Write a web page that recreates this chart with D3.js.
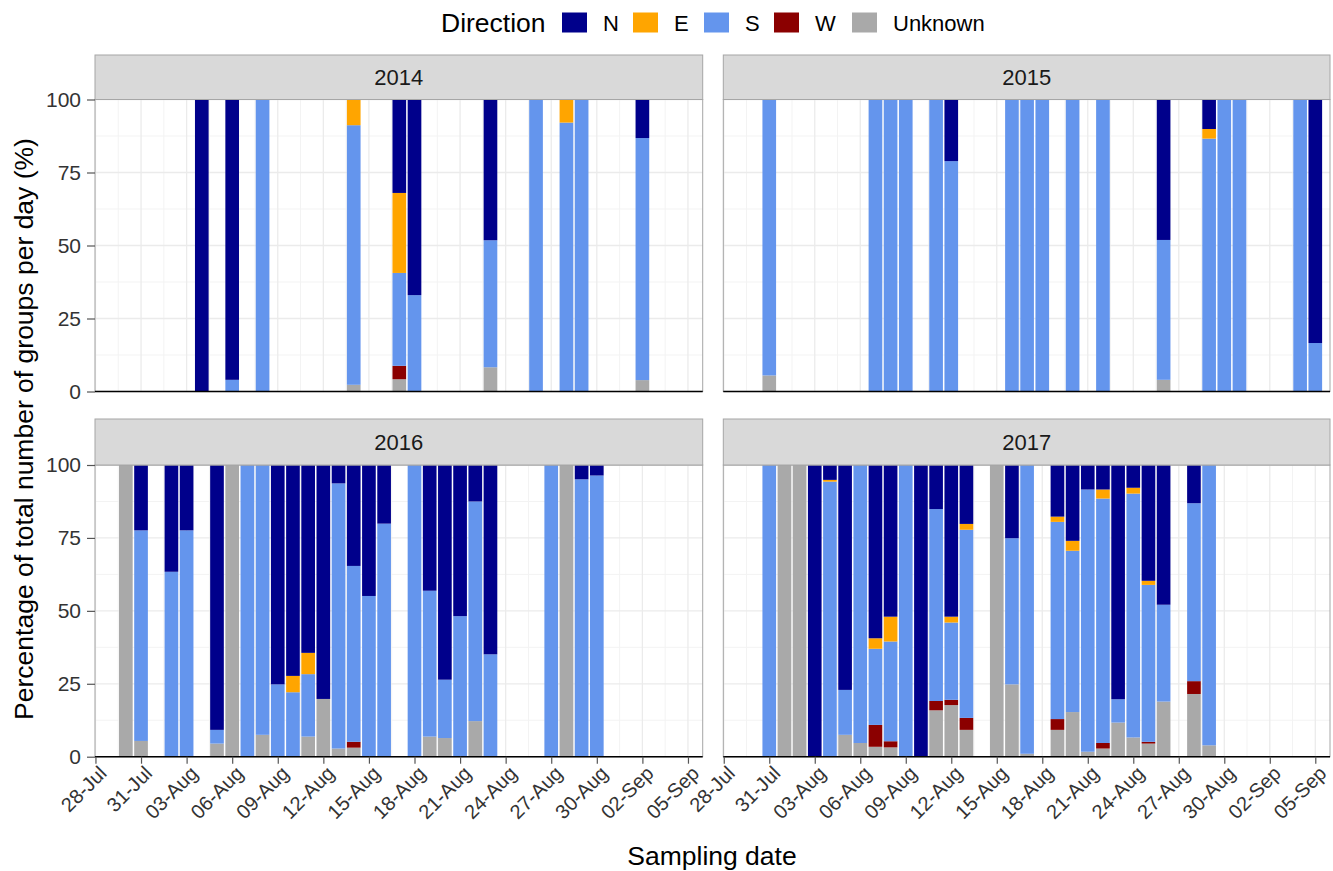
<!DOCTYPE html>
<html><head><meta charset="utf-8">
<script src="https://cdn.jsdelivr.net/npm/d3@7"></script>
<style>body{margin:0;background:#fff} svg{font-family:"Liberation Sans",Arial,sans-serif}</style>
</head><body><svg id="c" width="1333" height="871"></svg>
<script>
// ---------- data ----------
const directions = ["N", "E", "S", "W", "Unknown"];
const dirColors = ["#00008B", "#FFA500", "#6495ED", "#8B0000", "#A9A9A9"];
const years = ["2014", "2015", "2016", "2017"];
const xTickLabels = ["28-Jul","31-Jul","03-Aug","06-Aug","09-Aug","12-Aug","15-Aug","18-Aug","21-Aug","24-Aug","27-Aug","30-Aug","02-Sep","05-Sep"];
const yTickValues = [0, 25, 50, 75, 100];

const dates2014 = ["04-Aug","06-Aug","08-Aug","14-Aug","17-Aug","18-Aug","23-Aug","26-Aug","28-Aug","29-Aug","02-Sep"];
const N2014 = [100, 96, 0, 0, 32, 67, 48.2, 0, 0, 0, 13.2];
const E2014 = [0, 0, 0, 8.8, 27.4, 0, 0, 0, 7.9, 0, 0];
const S2014 = [0, 4, 100, 88.9, 31.8, 33, 43.5, 100, 92.1, 100, 82.9];
const W2014 = [0, 0, 0, 0, 4.6, 0, 0, 0, 0, 0, 0];
const U2014 = [0, 0, 0, 2.3, 4.2, 0, 8.3, 0, 0, 0, 3.9];

const dates2015 = ["31-Jul","07-Aug","08-Aug","09-Aug","11-Aug","12-Aug","16-Aug","17-Aug","18-Aug","20-Aug","22-Aug","26-Aug","29-Aug","30-Aug","31-Aug","04-Sep","05-Sep"];
const N2015 = [0, 0, 0, 0, 0, 21.1, 0, 0, 0, 0, 0, 48.1, 10.1, 0, 0, 0, 83.4];
const E2015 = [0, 0, 0, 0, 0, 0, 0, 0, 0, 0, 0, 0, 3.3, 0, 0, 0, 0];
const S2015 = [94.5, 100, 100, 100, 100, 78.9, 100, 100, 100, 100, 100, 47.9, 86.6, 100, 100, 100, 16.6];
const W2015 = [0, 0, 0, 0, 0, 0, 0, 0, 0, 0, 0, 0, 0, 0, 0, 0, 0];
const U2015 = [5.5, 0, 0, 0, 0, 0, 0, 0, 0, 0, 0, 4.0, 0, 0, 0, 0, 0];

const dates2016 = ["30-Jul","31-Jul","02-Aug","03-Aug","05-Aug","06-Aug","07-Aug","08-Aug","09-Aug","10-Aug","11-Aug","12-Aug","13-Aug","14-Aug","15-Aug","16-Aug","18-Aug","19-Aug","20-Aug","21-Aug","22-Aug","23-Aug","27-Aug","28-Aug","29-Aug","30-Aug"];
const N2016 = [0, 22.4, 36.6, 22.4, 90.8, 0, 0, 0, 75.2, 72.3, 64.4, 80.2, 6.3, 34.6, 44.9, 20.1, 0, 43.1, 73.6, 51.8, 12.5, 64.9, 0, 0, 4.9, 3.6];
const E2016 = [0, 0, 0, 0, 0, 0, 0, 0, 0, 5.6, 7.3, 0, 0, 0, 0, 0, 0, 0, 0, 0, 0, 0, 0, 0, 0, 0];
const S2016 = [0, 72.2, 63.4, 77.6, 4.7, 0, 100, 92.5, 24.8, 22.1, 21.4, 0, 90.9, 60.3, 55.1, 79.9, 100, 50, 20, 48.2, 75.3, 35.1, 100, 0, 95.1, 96.4];
const W2016 = [0, 0, 0, 0, 0, 0, 0, 0, 0, 0, 0, 0, 0, 2.0, 0, 0, 0, 0, 0, 0, 0, 0, 0, 0, 0, 0];
const U2016 = [100, 5.4, 0, 0, 4.5, 100, 0, 7.5, 0, 0, 6.9, 19.8, 2.8, 3.1, 0, 0, 0, 6.9, 6.4, 0, 12.2, 0, 0, 100, 0, 0];

const dates2017 = ["31-Jul","01-Aug","02-Aug","03-Aug","04-Aug","05-Aug","06-Aug","07-Aug","08-Aug","09-Aug","10-Aug","11-Aug","12-Aug","13-Aug","15-Aug","16-Aug","17-Aug","19-Aug","20-Aug","21-Aug","22-Aug","23-Aug","24-Aug","25-Aug","26-Aug","28-Aug","29-Aug"];
const N2017 = [0, 0, 0, 100, 5.1, 77.1, 0, 59.4, 52, 0, 100, 15.1, 52, 20.2, 0, 25.1, 0, 17.7, 26, 8.4, 8.4, 80.3, 7.8, 39.7, 47.9, 13.1, 0];
const E2017 = [0, 0, 0, 0, 0.6, 0, 0, 3.6, 8.5, 0, 0, 0, 2, 2, 0, 0, 0, 1.8, 3.4, 0, 3.1, 0, 2.0, 1.4, 0, 0, 0];
const S2017 = [100, 0, 0, 0, 94.3, 15.4, 95.3, 26.1, 34.2, 100, 0, 65.8, 26.5, 64.5, 0, 50.1, 99, 67.6, 55.3, 89.9, 83.8, 8, 83.6, 53.8, 33.2, 61, 96.1];
const W2017 = [0, 0, 0, 0, 0, 0, 0, 7.5, 2.1, 0, 0, 3.2, 1.8, 4.1, 0, 0, 0, 3.7, 0, 0, 1.9, 0, 0, 0.6, 0, 4.4, 0];
const U2017 = [0, 100, 100, 0, 0, 7.5, 4.7, 3.4, 3.2, 0, 0, 15.9, 17.7, 9.2, 100, 24.8, 1, 9.2, 15.3, 1.7, 2.8, 11.7, 6.6, 4.5, 18.9, 21.5, 3.9];

const yearDates = [dates2014, dates2015, dates2016, dates2017];
const yearSeries = [
  [N2014, E2014, S2014, W2014, U2014],
  [N2015, E2015, S2015, W2015, U2015],
  [N2016, E2016, S2016, W2016, U2016],
  [N2017, E2017, S2017, W2017, U2017]
];

// ---------- layout ----------
const svg = d3.select("#c");
const parse = d3.timeParse("%d-%b");
const DAY = 864e5;
const cols = [[95, 702.7], [723.3, 1330]];
const rows = [{strip: 55, top: 99.5, bottom: 391.5}, {strip: 419, top: 465, bottom: 756.7}];
const xStart = new Date(+parse("28-Jul") - 0.03 * DAY);
const xEnd = new Date(+parse("06-Sep") - 0.03 * DAY);
const color = d3.scaleOrdinal().domain(directions).range(dirColors);
const stackKeys = ["Unknown", "W", "S", "E", "N"];

years.forEach((yr, i) => {
  const c = cols[i % 2], r = rows[Math.floor(i / 2)];
  const x = d3.scaleTime().domain([xStart, xEnd]).range(c);
  const y = d3.scaleLinear().domain([0, 100]).range([r.bottom, r.top]);
  const g = svg.append("g");

  // grid
  const minorX = xTickLabels.map(t => new Date(+parse(t) + 1.5 * DAY)).filter(d => d < xEnd);
  g.selectAll(".mx").data(minorX).join("line")
    .attr("x1", d => x(d)).attr("x2", d => x(d)).attr("y1", r.top).attr("y2", r.bottom)
    .attr("stroke", "#F3F3F3").attr("stroke-width", 1);
  g.selectAll(".my").data([12.5, 37.5, 62.5, 87.5]).join("line")
    .attr("x1", c[0]).attr("x2", c[1]).attr("y1", d => y(d)).attr("y2", d => y(d))
    .attr("stroke", "#F3F3F3").attr("stroke-width", 1);
  g.selectAll(".gx").data(xTickLabels.map(parse)).join("line")
    .attr("x1", d => x(d)).attr("x2", d => x(d)).attr("y1", r.top).attr("y2", r.bottom)
    .attr("stroke", "#EBEBEB").attr("stroke-width", 1.3);
  g.selectAll(".gy").data(yTickValues).join("line")
    .attr("x1", c[0]).attr("x2", c[1]).attr("y1", d => y(d)).attr("y2", d => y(d))
    .attr("stroke", "#EBEBEB").attr("stroke-width", 1.3);

  // bars
  const table = yearDates[i].map((d, j) => {
    const o = {date: parse(d)};
    directions.forEach((k, m) => o[k] = yearSeries[i][m][j]);
    return o;
  });
  const stacked = d3.stack().keys(stackKeys)(table);
  const bw = x(new Date(+xStart + 0.9 * DAY)) - x(xStart);
  g.selectAll(".layer").data(stacked).join("g")
    .attr("fill", s => color(s.key))
    .selectAll("rect").data(s => s).join("rect")
    .attr("x", d => x(d.data.date) - bw / 2)
    .attr("width", bw)
    .attr("y", d => y(d[1]))
    .attr("height", d => Math.max(0, y(d[0]) - y(d[1])));

  // panel border
  g.append("rect").attr("x", c[0]).attr("y", r.top).attr("width", c[1] - c[0]).attr("height", r.bottom - r.top)
    .attr("fill", "none").attr("stroke", "#A6A6A6").attr("stroke-width", 1);
  g.append("line").attr("x1", c[0]).attr("x2", c[1]).attr("y1", r.bottom).attr("y2", r.bottom)
    .attr("stroke", "#000").attr("stroke-width", 1.6);

  // strip
  g.append("rect").attr("x", c[0]).attr("y", r.strip).attr("width", c[1] - c[0]).attr("height", r.top - r.strip)
    .attr("fill", "#D9D9D9").attr("stroke", "#A6A6A6").attr("stroke-width", 1);
  g.append("text").attr("x", (c[0] + c[1]) / 2).attr("y", (r.strip + r.top) / 2)
    .attr("dy", "0.36em").attr("text-anchor", "middle").attr("font-size", 22).attr("fill", "#1A1A1A").text(yr);

  // y axis (left column only)
  if (i % 2 === 0) {
    const ya = g.append("g").attr("transform", `translate(${c[0]},0)`)
      .call(d3.axisLeft(y).tickValues(yTickValues).tickSize(8).tickPadding(6));
    ya.select(".domain").remove();
    ya.selectAll("line").attr("stroke", "#555").attr("stroke-width", 1.2);
    ya.selectAll("text").attr("font-size", 21).attr("fill", "#333").attr("font-family", "Liberation Sans, Arial, sans-serif");
  }
  // x axis (bottom row only)
  if (i >= 2) {
    const xa = g.append("g").attr("transform", `translate(0,${r.bottom})`)
      .call(d3.axisBottom(x).tickValues(xTickLabels.map(parse)).tickFormat(d3.timeFormat("%d-%b")).tickSize(7));
    xa.select(".domain").remove();
    xa.selectAll("line").attr("stroke", "#555").attr("stroke-width", 1.2);
    xa.selectAll("text").attr("font-size", 20).attr("fill", "#333").attr("font-family", "Liberation Sans, Arial, sans-serif")
      .attr("text-anchor", "end").attr("transform", "translate(2,8) rotate(-45)").attr("dy", "0.7em").attr("y", 0);
  }
});

// axis titles
svg.append("text").attr("x", 712).attr("y", 865).attr("text-anchor", "middle")
  .attr("font-size", 26.5).attr("fill", "#000").text("Sampling date");
svg.append("text").attr("transform", "translate(33,429) rotate(-90)").attr("text-anchor", "middle")
  .attr("font-size", 26.5).attr("fill", "#000").text("Percentage of total number of groups per day (%)");

// legend
const leg = svg.append("g");
leg.append("text").attr("x", 441).attr("y", 32).attr("font-size", 26.5).attr("fill", "#000").text("Direction");
const legKeyX = [562, 633, 704, 774, 852];
directions.forEach((d, k) => {
  leg.append("rect").attr("x", legKeyX[k]).attr("y", 12.5).attr("width", 25).attr("height", 20).attr("fill", color(d));
  leg.append("text").attr("x", legKeyX[k] + 41).attr("y", 30.5).attr("font-size", 22).attr("fill", "#000").text(d);
});
</script></body></html>
